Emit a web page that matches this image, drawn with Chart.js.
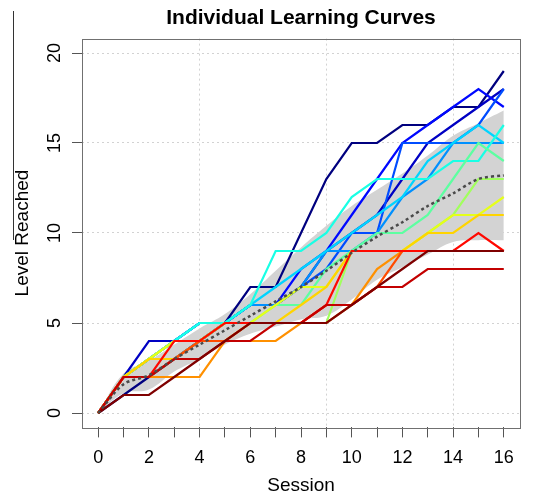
<!DOCTYPE html>
<html><head><meta charset="utf-8">
<script src="https://cdn.jsdelivr.net/npm/chart.js@4.4.1/dist/chart.umd.min.js"></script>
<style>html,body{margin:0;padding:0;background:#fff;}#wrap{width:544px;height:494px;}</style>
</head><body>
<div id="wrap"><canvas id="c" width="544" height="494"></canvas></div>
<script>
const sessions = [0,1,2,3,4,5,6,7,8,9,10,11,12,13,14,15,16];
const xTickLabels = ["0","","2","","4","","6","","8","","10","","12","","14","","16"];
const yTicks = [0,5,10,15,20];
const xGrid = [4,9,14];

const seriesColors = ["#00007F","#0000C3","#0008FF","#004CFF","#0090FF","#00D4FF","#19FFE5","#5DFFA1",
                      "#A1FF5D","#E5FF19","#FFD400","#FF9000","#FF4C00","#FF0800","#C30000","#7F0000"];
const s01 = [0,1,2,3,4,5,7,7,10,13,15,15,16,16,17,17,19];
const s02 = [0,2,4,4,5,5,6,6,7,9,10,11,13,15,16,17,18];
const s03 = [0,2,3,4,5,5,6,6,8,9,11,13,15,16,17,18,17];
const s04 = [0,2,3,3,4,5,6,6,7,8,10,10,15,15,15,16,18];
const s05 = [0,2,3,4,5,5,6,6,7,9,9,10,12,13,15,15,15];
const s06 = [0,2,3,4,5,5,6,7,8,9,10,11,12,14,15,16,15];
const s07 = [0,2,3,4,5,5,6,9,9,10,12,13,13,13,14,14,16];
const s08 = [0,2,3,4,4,5,5,6,6,8,9,10,10,11,13,15,14];
const s09 = [0,2,3,4,4,5,5,5,5,5,9,9,9,10,11,13,13];
const s10 = [0,2,3,4,4,5,5,6,7,7,9,9,9,10,11,11,12];
const s11 = [0,2,3,3,4,4,5,5,6,7,9,9,9,10,10,11,11];
const s12 = [0,2,2,2,2,4,4,4,5,5,6,8,9,9,9,9,9];
const s13 = [0,2,2,3,4,4,5,5,5,6,6,7,9,9,9,9,9];
const s14 = [0,2,2,4,4,5,5,5,5,6,9,9,9,9,9,10,9];
const s15 = [0,2,2,3,3,4,4,5,5,6,6,7,7,8,8,8,8];
const s16 = [0,1,1,2,3,4,5,5,5,5,6,7,8,9,9,9,9];
const allSeries = [s01,s02,s03,s04,s05,s06,s07,s08,s09,s10,s11,s12,s13,s14,s15,s16];

const meanCurve = [0,1.6,2.1,3.0,3.8,4.6,5.4,6.2,7.0,7.9,8.9,9.8,10.6,11.5,12.2,13.0,13.2];
const bandUpper = [0,2.2,2.9,3.8,4.7,5.5,6.6,7.9,9.2,10.4,11.5,12.4,13.3,14.3,15.4,16.1,16.8];
const bandLower = [0,1.1,1.3,2.3,3.0,3.8,4.4,4.8,5.2,5.4,6.3,7.4,8.1,8.8,9.5,9.6,9.6];

const FONT = "'Liberation Sans', Arial, Helvetica, sans-serif";
Chart.defaults.font.family = FONT;

const pts = arr => sessions.map((s,i)=>({x:s,y:arr[i]}));

const datasets = [];
datasets.push({data:pts(bandLower),borderWidth:0,pointRadius:0,fill:false,tension:0.4,borderColor:'rgba(0,0,0,0)'});
datasets.push({data:pts(bandUpper),borderWidth:0,pointRadius:0,fill:'-1',tension:0.4,borderColor:'rgba(0,0,0,0)',backgroundColor:'#d3d3d3'});
allSeries.forEach((arr,i)=>{
  datasets.push({data:pts(arr),borderColor:seriesColors[i],borderWidth:2.2,pointRadius:0,fill:false,tension:0});
});
datasets.push({data:pts(meanCurve),borderColor:'#4a4a4a',borderWidth:2.5,borderDash:[3,3],pointRadius:0,fill:false,tension:0.3});
datasets.forEach((d,i)=>{ d.order = -i; });

const boxPlugin = {
  id:'box',
  afterDraw(chart){
    const {ctx, chartArea:a} = chart;
    ctx.save();
    ctx.strokeStyle = '#707070';
    ctx.lineWidth = 1;
    ctx.strokeRect(Math.round(a.left)+0.5, Math.round(a.top)+0.5, Math.round(a.right-a.left), Math.round(a.bottom-a.top));
    ctx.strokeStyle = '#333';
    ctx.beginPath();
    ctx.moveTo(13.5, 11);
    ctx.lineTo(13.5, 240);
    ctx.stroke();
    ctx.restore();
  }
};

new Chart(document.getElementById('c'), {
  type:'line',
  data:{datasets},
  plugins:[boxPlugin],
  options:{
    responsive:false,
    animation:false,
    devicePixelRatio:1,
    layout:{padding:{left:0,right:24,top:0,bottom:0}},
    plugins:{
      legend:{display:false},
      tooltip:{enabled:false},
      filler:{drawTime:'beforeDatasetsDraw'},
      title:{display:true,text:'Individual Learning Curves',color:'#000',
        font:{family:FONT,size:21,weight:'bold',lineHeight:1.2},padding:{top:6,bottom:7.4},fullSize:false}
    },
    scales:{
      x:{
        type:'linear',min:-0.64,max:16.64,
        afterBuildTicks:s=>{ s.ticks = sessions.map(v=>({value:v})); },
        afterFit:s=>{ s.height = 494-427.4; },
        ticks:{autoSkip:false,maxRotation:0,minRotation:0,color:'#000',font:{size:18},padding:10,
          callback:(v,i)=>xTickLabels[sessions.indexOf(v)] ?? ''},
        grid:{color:c=> (c.tick && xGrid.includes(c.tick.value)) ? '#d2d2d2' : 'rgba(0,0,0,0)',
          lineWidth:1,tickLength:10,tickColor:'#555',tickWidth:1,tickBorderDash:[]},
        border:{display:false,dash:[2,3]},
        title:{display:true,text:'Session',color:'#000',font:{size:19,lineHeight:1},padding:{top:0,bottom:-1}}
      },
      y:{
        type:'linear',min:-0.8,max:20.8,
        afterBuildTicks:s=>{ s.ticks = yTicks.map(v=>({value:v})); },
        afterFit:s=>{ s.width = 82; },
        ticks:{color:'#000',font:{size:18},minRotation:90,maxRotation:90,crossAlign:'center',padding:7},
        grid:{color:'#d2d2d2',lineWidth:1,tickLength:10,tickColor:'#555',tickWidth:1,tickBorderDash:[]},
        border:{display:false,dash:[2,3]},
        title:{display:true,text:'Level Reached',color:'#000',font:{size:19,lineHeight:1},padding:{top:13.5,bottom:0}}
      }
    }
  }
});
</script>
</body></html>
